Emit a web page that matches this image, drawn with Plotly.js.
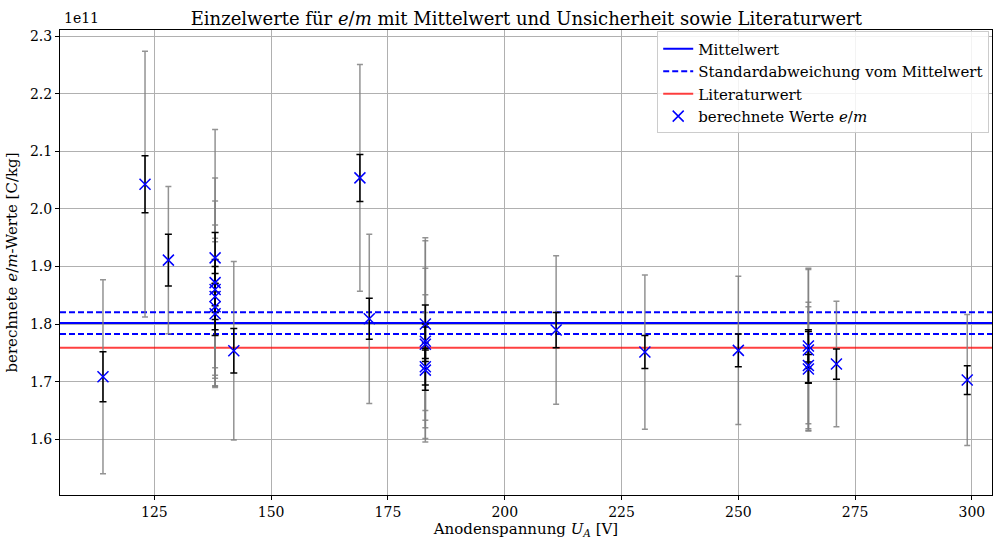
<!DOCTYPE html>
<html>
<head>
<meta charset="utf-8">
<script src="https://cdn.plot.ly/plotly-3.0.1.min.js"></script>
<style>html,body{margin:0;padding:0;background:#fff;}#chart{width:993px;height:539px;}</style>
</head>
<body>
<div id="chart"></div>
<script>
// Anode voltage U_A [V]
const voltages = [114, 123, 128, 138, 138, 138, 138, 138, 138, 142, 169, 171, 183, 183, 183, 183, 183, 211, 230, 250, 265, 265, 265, 265, 271, 299];
// computed e/m values in units of 1e11 C/kg
const emValues = [1.7085, 2.0431, 1.9111, 1.915, 1.872, 1.860, 1.848, 1.830, 1.818, 1.7537, 2.054, 1.8092, 1.800, 1.770, 1.765, 1.726, 1.720, 1.7896, 1.7514, 1.7543, 1.762, 1.755, 1.728, 1.722, 1.7306, 1.7028];
// small (statistical) uncertainty, 1e11 C/kg
const errSmall = [0.0434, 0.0495, 0.045, 0.044, 0.040, 0.040, 0.040, 0.040, 0.038, 0.0385, 0.0408, 0.0356, 0.033, 0.030, 0.030, 0.032, 0.035, 0.0307, 0.0287, 0.0283, 0.028, 0.032, 0.030, 0.025, 0.0263, 0.025];
// large (total) uncertainty, 1e11 C/kg
const errLarge = [0.1687, 0.231, 0.128, 0.223, 0.182, 0.154, 0.124, 0.119, 0.125, 0.155, 0.197, 0.147, 0.150, 0.175, 0.132, 0.125, 0.100, 0.129, 0.134, 0.129, 0.135, 0.140, 0.110, 0.108, 0.109, 0.114];
const meanValue = 1.8017;
const stdMean = 0.0188;
const literatureValue = 1.75882;
const xRange = [104.8, 304.3];
const yRange = [1.503, 2.311];
const xTicks = [125, 150, 175, 200, 225, 250, 275, 300];
const yTicks = [1.6, 1.7, 1.8, 1.9, 2.0, 2.1, 2.2, 2.3];

const FONT = 'DejaVu Serif, serif';

const traces = [
  {x: xRange, y: [meanValue, meanValue], mode: 'lines', name: 'Mittelwert',
   line: {color: '#0000ff', width: 2}, hoverinfo: 'skip'},
  {x: xRange, y: [meanValue + stdMean, meanValue + stdMean], mode: 'lines', name: 'Standardabweichung vom Mittelwert',
   line: {color: '#0000ff', width: 2, dash: '6px,3px'}, legendgroup: 'std'},
  {x: xRange, y: [meanValue - stdMean, meanValue - stdMean], mode: 'lines', name: 'Standardabweichung vom Mittelwert',
   line: {color: '#0000ff', width: 2, dash: '6px,3px'}, legendgroup: 'std', showlegend: false},
  {x: xRange, y: [literatureValue, literatureValue], mode: 'lines', name: 'Literaturwert',
   line: {color: 'rgba(255,0,0,0.75)', width: 2}},
  {x: voltages, y: emValues, mode: 'markers', showlegend: false,
   marker: {color: 'rgba(0,0,0,0)', size: 1},
   error_y: {type: 'data', array: errLarge, visible: true, color: 'rgba(128,128,128,0.85)', thickness: 1.5, width: 3}},
  {x: voltages, y: emValues, mode: 'markers', name: 'berechnete Werte <i>e</i>/<i>m</i>',
   marker: {symbol: 'x-thin', size: 11, line: {color: '#0000ff', width: 1.5}, color: '#0000ff'},
   error_y: {type: 'data', array: errSmall, visible: true, color: '#000000', thickness: 1.5, width: 3.5}}
];

const layout = {
  width: 993, height: 539,
  margin: {l: 60, r: 1, t: 30, b: 44},
  paper_bgcolor: '#ffffff', plot_bgcolor: '#ffffff',
  font: {family: FONT, size: 15, color: '#000'},
  title: {text: 'Einzelwerte für <i>e</i>/<i>m</i> mit Mittelwert und Unsicherheit sowie Literaturwert',
          font: {family: FONT, size: 18}, x: 0.53, xanchor: 'center', y: 0.965, yanchor: 'middle'},
  xaxis: {range: xRange, tickvals: xTicks, ticktext: xTicks.map(String),
          showgrid: true, gridcolor: '#b0b0b0', gridwidth: 1, zeroline: false,
          showline: true, linecolor: '#000', linewidth: 1, mirror: true,
          ticks: 'outside', ticklen: 4, tickcolor: '#000', tickfont: {family: FONT, size: 14},
          title: {text: 'Anodenspannung <i>U<sub>A</sub></i> [V]', font: {family: FONT, size: 15}, standoff: 0}},
  yaxis: {range: yRange, tickvals: yTicks, ticktext: yTicks.map(v => v.toFixed(1)),
          showgrid: true, gridcolor: '#b0b0b0', gridwidth: 1, zeroline: false,
          showline: true, linecolor: '#000', linewidth: 1, mirror: true,
          ticks: 'outside', ticklen: 4, tickcolor: '#000', tickfont: {family: FONT, size: 14},
          title: {text: 'berechnete <i>e</i>/<i>m</i>-Werte [C/kg]', font: {family: FONT, size: 15}, standoff: 8}},
  legend: {x: 0.997, xanchor: 'right', y: 0.997, yanchor: 'top',
           bgcolor: 'rgba(255,255,255,0.85)', bordercolor: '#cccccc', borderwidth: 1,
           font: {family: FONT, size: 15}, tracegroupgap: 0},
  annotations: [{text: '1e11', xref: 'paper', yref: 'paper', x: 0, y: 1, xanchor: 'left', yanchor: 'bottom',
                 xshift: 2, yshift: 2, showarrow: false, font: {family: FONT, size: 14}}],
  showlegend: true
};

Plotly.newPlot('chart', traces, layout, {displayModeBar: false, staticPlot: true});
</script>
</body>
</html>
